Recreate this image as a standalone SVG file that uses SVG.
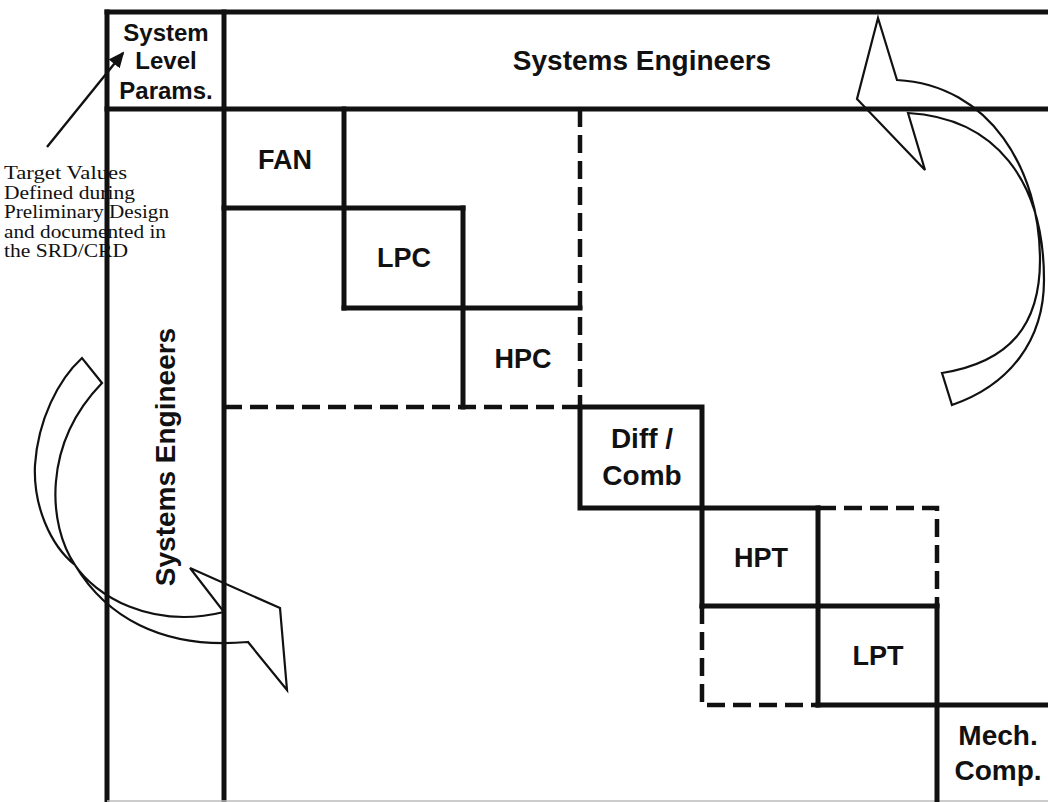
<svg xmlns="http://www.w3.org/2000/svg" width="1048" height="802" viewBox="0 0 1048 802">
<style>
.bg{fill:#fff}
.s{stroke:#111;stroke-width:5;fill:none;stroke-linecap:square}
.d{stroke:#111;stroke-width:4.5;fill:none;stroke-dasharray:18 8}
.lbl{font-family:"Liberation Sans",Arial,Helvetica,sans-serif;font-weight:bold;font-size:27px;fill:#111;text-anchor:middle}
.big{font-size:28px}
.sm{font-size:24px}
.note{font-family:"Liberation Serif","Times New Roman",serif;font-size:19px;fill:#111}
.arrow{stroke:#111;stroke-width:2.2;fill:none;stroke-linejoin:miter}
</style>
<defs>
<marker id="ah" markerWidth="16" markerHeight="14" refX="14" refY="7" orient="auto" markerUnits="userSpaceOnUse" viewBox="0 0 16 14">
<path d="M0,0 L16,7 L0,14 Z" fill="#111"/>
</marker>
</defs>
<rect class="bg" x="0" y="0" width="1048" height="802"/>

<g id="annotation">
<text class="note" x="4" y="179" textLength="123" lengthAdjust="spacingAndGlyphs">Target Values</text>
<text class="note" x="4" y="198.5" textLength="131" lengthAdjust="spacingAndGlyphs">Defined during</text>
<text class="note" x="4" y="218" textLength="165" lengthAdjust="spacingAndGlyphs">Preliminary Design</text>
<text class="note" x="4" y="237.5" textLength="162" lengthAdjust="spacingAndGlyphs">and documented in</text>
<text class="note" x="4" y="257" textLength="124" lengthAdjust="spacingAndGlyphs">the SRD/CRD</text>
</g>

<g id="grid">
<line class="s" x1="107" y1="12" x2="1048" y2="12"/>
<line class="s" x1="107" y1="109" x2="1048" y2="109"/>
<line class="s" x1="107" y1="12" x2="107" y2="802"/>
<line class="s" x1="224" y1="12" x2="224" y2="802"/>
<line x1="107" y1="801" x2="1048" y2="801" stroke="#bbb" stroke-width="1.5"/>
</g>

<g id="fan">
<path class="s" d="M224,208 H463 M344,109 V308"/>
<text class="lbl" x="285" y="169">FAN</text>
</g>
<g id="lpc">
<path class="s" d="M463,208 V407 M344,308 H580"/>
<text class="lbl" x="404" y="267">LPC</text>
</g>
<g id="hpc">
<path class="d" d="M580,109 V407 M224,407 H580"/>
<text class="lbl" x="523" y="368">HPC</text>
</g>
<g id="diffcomb">
<path class="s" d="M580,407 H702 V606 M580,407 V508 H818"/>
<text class="lbl big" x="642" y="448">Diff /</text>
<text class="lbl big" x="642" y="485">Comb</text>
</g>
<g id="hpt">
<path class="s" d="M818,508 V705 M702,606 H937"/>
<path class="d" d="M818,508 H937 V606"/>
<text class="lbl" x="761" y="567">HPT</text>
</g>
<g id="lpt">
<path class="s" d="M937,606 V802 M818,705 H1048"/>
<path class="d" d="M702,606 V705 H818"/>
<text class="lbl" x="878" y="665">LPT</text>
</g>
<g id="mech">
<text class="lbl big" x="998" y="745">Mech.</text>
<text class="lbl big" x="998" y="780">Comp.</text>
</g>
<g id="sysparams">
<text class="lbl sm" x="166" y="41">System</text>
<text class="lbl sm" x="166" y="69">Level</text>
<text class="lbl sm" x="166" y="99">Params.</text>
</g>
<g id="se-top">
<text class="lbl big" x="642" y="70">Systems Engineers</text>
</g>
<g id="se-left">
<text class="lbl big" transform="translate(175,457) rotate(-90)" x="0" y="0">Systems Engineers</text>
</g>

<g id="connectors">
<line x1="47" y1="147" x2="123" y2="53" stroke="#111" stroke-width="2.4" marker-end="url(#ah)"/>
<path class="arrow" d="M878,18 L897,80 C990,85 1040,170 1040,260 C1040,325 1010,362 942,373 L952,405 C1010,385 1044,340 1044,280 C1044,180 995,118 908,113 L925,170 L857,99 Z"/>
<path class="arrow" d="M82,358 C58,380 38,420 35,465 C33,505 50,545 75,565 C105,615 160,650 248,642 L287,690 L280,608 L190,568 L224,612 C150,630 95,595 75,565 C48,525 42,445 102,383 Z"/>
</g>
</svg>
